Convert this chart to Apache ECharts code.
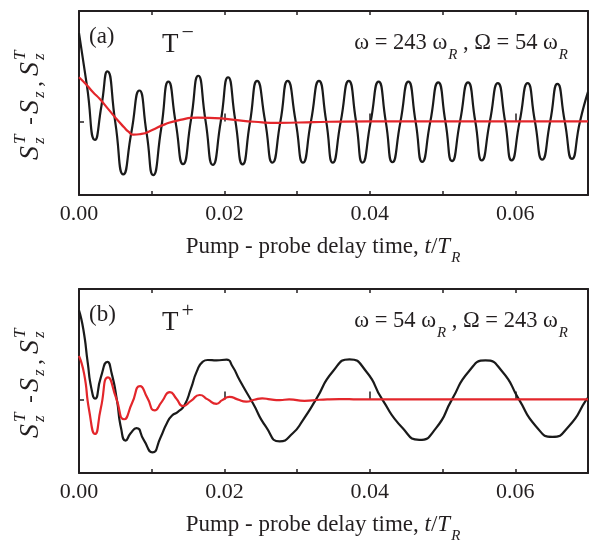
<!DOCTYPE html>
<html><head><meta charset="utf-8">
<script src="https://cdn.jsdelivr.net/npm/echarts@6/dist/echarts.min.js"></script>
<style>html,body{margin:0;padding:0;background:#fff}#c{width:589px;height:541px}</style>
</head><body><div id="c"></div>
<script>
// ---- tick labels ----
const xTickVals = [0, 0.02, 0.04, 0.06];
const xTickLabels = ['0.00', '0.02', '0.04', '0.06'];

// ---- panel (a): T-, ω = 243 ωR, Ω = 54 ωR ----
const tBlackA = [0.0000,0.0011,0.0022,0.0031,0.0039,0.0050,0.0061,0.0072,0.0083,0.0093,0.0102,0.0113,0.0123,0.0133,0.0143,0.0154,0.0164,0.0174,0.0184,0.0195,0.0205,0.0215,0.0225,0.0235,0.0245,0.0256,0.0266,0.0277,0.0287,0.0298,0.0308,0.0319,0.0330,0.0340,0.0349,0.0360,0.0371,0.0381,0.0390,0.0401,0.0412,0.0422,0.0431,0.0442,0.0453,0.0463,0.0472,0.0483,0.0494,0.0504,0.0513,0.0524,0.0535,0.0545,0.0554,0.0565,0.0576,0.0586,0.0595,0.0606,0.0617,0.0627,0.0637,0.0648,0.0658,0.0668,0.0678,0.0689,0.0700];
const vBlackA = [1.20,0.48,-0.25,0.22,0.68,-0.02,-0.72,-0.15,0.42,-0.16,-0.73,-0.10,0.54,-0.02,-0.58,0.02,0.62,0.01,-0.59,0.00,0.60,0.01,-0.585,-0.02,0.55,0.00,-0.56,0.00,0.55,0.00,-0.56,0.00,0.55,0.00,-0.56,0.00,0.55,0.00,-0.56,-0.01,0.54,-0.01,-0.555,-0.01,0.54,-0.01,-0.55,-0.01,0.53,-0.01,-0.54,0.00,0.53,0.00,-0.53,0.00,0.52,0.00,-0.53,0.00,0.52,0.00,-0.52,0.00,0.51,0.00,-0.51,0.00,0.40];
const tRedA = [0.0000,0.0010,0.0019,0.0029,0.0040,0.0051,0.0062,0.0068,0.0075,0.0086,0.0100,0.0118,0.0139,0.0163,0.0187,0.0214,0.0241,0.0269,0.0303,0.0344,0.0399,0.0700];
const vRedA = [0.60,0.50,0.40,0.30,0.17,0.04,-0.08,-0.14,-0.18,-0.17,-0.12,-0.04,0.02,0.05,0.045,0.02,-0.005,-0.02,-0.015,-0.005,0.00,0.00];

// ---- panel (b): T+, ω = 54 ωR, Ω = 243 ωR ----
const tBlackB = [0.0000,0.0006,0.0012,0.0017,0.0022,0.0030,0.0039,0.0045,0.0052,0.0058,0.0064,0.0071,0.0079,0.0089,0.0101,0.0112,0.0121,0.0128,0.0136,0.0145,0.0154,0.0162,0.0170,0.0177,0.0189,0.0203,0.0211,0.0221,0.0239,0.0257,0.0276,0.0294,0.0308,0.0326,0.0349,0.0372,0.0395,0.0417,0.0445,0.0468,0.0491,0.0513,0.0536,0.0559,0.0582,0.0605,0.0628,0.0651,0.0674,0.0698,0.0700];
const vBlackB = [1.21,0.95,0.50,0.15,0.01,0.30,0.51,0.35,0.00,-0.40,-0.56,-0.46,-0.39,-0.55,-0.72,-0.52,-0.32,-0.22,-0.17,-0.08,0.15,0.38,0.51,0.535,0.53,0.54,0.45,0.26,-0.05,-0.37,-0.57,-0.46,-0.28,0.00,0.38,0.545,0.38,0.00,-0.39,-0.55,-0.39,0.00,0.38,0.53,0.38,0.00,-0.36,-0.51,-0.36,0.00,0.02];
const tRedB = [0.0000,0.0007,0.0014,0.0022,0.0030,0.0040,0.0051,0.0062,0.0073,0.0084,0.0094,0.0104,0.0114,0.0125,0.0134,0.0143,0.0154,0.0166,0.0177,0.0189,0.0197,0.0207,0.0218,0.0230,0.0241,0.0252,0.0263,0.0276,0.0289,0.0310,0.0331,0.0358,0.0385,0.0700];
const vRedB = [0.59,0.35,-0.15,-0.47,-0.12,0.30,0.02,-0.27,-0.05,0.18,0.02,-0.15,-0.03,0.10,0.01,-0.09,-0.02,0.06,0.00,-0.06,-0.01,0.035,0.00,-0.03,-0.005,0.015,0.00,-0.01,0.00,-0.02,-0.005,0.005,0.00,0.00];

const INK = '#231f20';
const RED = '#e3262b';
const SERIF = 'Liberation Serif';

const zip = (t, v) => t.map((x, i) => [x, v[i]]);

const grids = [
  {left: 79, top: 11, width: 509, height: 184},
  {left: 79, top: 289, width: 509, height: 184}
];

function xAxes(gi) {
  const base = {type: 'value', gridIndex: gi, min: 0, max: 0.07, splitLine: {show: false}};
  return [
    Object.assign({}, base, {
      position: 'bottom', interval: 0.01,
      axisLine: {show: true, onZero: false, lineStyle: {color: INK, width: 2}},
      axisTick: {show: true, inside: true, length: 4, lineStyle: {color: INK, width: 1.5}},
      axisLabel: {show: true, margin: 8, fontFamily: SERIF, fontSize: 22, color: INK,
        customValues: xTickVals,
        formatter: v => { const i = xTickVals.findIndex(a => Math.abs(a - v) < 1e-9); return i >= 0 ? xTickLabels[i] : ''; }}
    }),
    Object.assign({}, base, {
      position: 'bottom',
      axisLine: {show: false},
      axisTick: {show: true, inside: true, length: 8, customValues: xTickVals, lineStyle: {color: INK, width: 1.5}},
      axisLabel: {show: false}
    }),
    Object.assign({}, base, {
      position: 'top', interval: 0.01,
      axisLine: {show: true, onZero: false, lineStyle: {color: INK, width: 2}},
      axisTick: {show: true, inside: true, length: 4, lineStyle: {color: INK, width: 1.5}},
      axisLabel: {show: false}
    })
  ];
}
function yAxes(gi) {
  const base = {type: 'value', gridIndex: gi, min: -1, max: 1.5, splitLine: {show: false}, axisLabel: {show: false}};
  return [
    Object.assign({}, base, {position: 'left',
      axisLine: {show: true, onZero: false, lineStyle: {color: INK, width: 2}},
      axisTick: {show: true, inside: true, length: 5, customValues: [0], lineStyle: {color: INK, width: 1.5}}}),
    Object.assign({}, base, {position: 'right',
      axisLine: {show: true, onZero: false, lineStyle: {color: INK, width: 2}},
      axisTick: {show: false}})
  ];
}

function line(data, xi, yi, color) {
  return {type: 'line', xAxisIndex: xi, yAxisIndex: yi, data: data, showSymbol: false, symbol: 'none',
    smooth: 0.6, clip: true, animation: false,
    lineStyle: {color: color, width: 2.2}};
}

const txt = {fontFamily: SERIF, fill: INK};

function yLabel(x0, y0) {
  const it = (s, lx, ly, size, italic) => ({type: 'text', x: lx, y: ly,
    style: {text: s, fontFamily: SERIF, fontSize: size, fontStyle: italic ? 'italic' : 'normal', fill: INK,
      textAlign: 'left', textVerticalAlign: 'middle'}});
  return {type: 'group', x: x0, y: y0, rotation: Math.PI / 2, children: [
    it('S', 0, 0, 28, true), it('T', 16, -10, 17, true), it('z', 16, 9, 17, true),
    it('-', 35, 0, 24, false),
    it('S', 46, 0, 28, true), it('z', 62, 9, 17, true),
    it(',', 73, 4, 24, false),
    it('S', 84, 0, 28, true), it('T', 100, -10, 17, true), it('z', 100, 9, 17, true)
  ]};
}

function annot(top, label, sign, omegaText) {
  return [
    {type: 'text', x: 89, y: top + 26, style: Object.assign({text: label, fontSize: 23, textAlign: 'left', textVerticalAlign: 'middle'}, txt)},
    {type: 'text', x: 162, y: top + 34, style: {text: '{T|T}{p|' + sign + '}', textAlign: 'left', textVerticalAlign: 'middle',
      rich: {T: {fontFamily: SERIF, fontSize: 27, fill: INK}, p: {fontFamily: SERIF, fontSize: 22, fill: INK, padding: [0, 0, 24, 3]}}}},
    {type: 'text', x: 568, y: top + 32, style: {text: omegaText, textAlign: 'right', textVerticalAlign: 'middle',
      rich: {n: {fontFamily: SERIF, fontSize: 22.5, fill: INK}, s: {fontFamily: SERIF, fontSize: 15, fontStyle: 'italic', fill: INK, padding: [24, 0, 0, 1]}}}}
  ];
}

function xTitle(y) {
  return {type: 'text', x: 323, y: y, style: {text: '{n|Pump - probe delay time, }{i|t}{n|/}{i|T}{s|R}', textAlign: 'center', textVerticalAlign: 'middle',
    rich: {n: {fontFamily: SERIF, fontSize: 23, fill: INK}, i: {fontFamily: SERIF, fontSize: 23, fontStyle: 'italic', fill: INK},
      s: {fontFamily: SERIF, fontSize: 15, fontStyle: 'italic', fill: INK, padding: [22, 0, 0, 1]}}}};
}

const chart = echarts.init(document.getElementById('c'), null, {renderer: 'canvas'});
chart.setOption({
  animation: false,
  backgroundColor: '#fff',
  grid: grids,
  xAxis: xAxes(0).concat(xAxes(1)),
  yAxis: yAxes(0).concat(yAxes(1)),
  series: [
    line(zip(tBlackA, vBlackA), 0, 0, '#1a1a1a'),
    line(zip(tRedA, vRedA), 0, 0, RED),
    line(zip(tBlackB, vBlackB), 3, 2, '#1a1a1a'),
    line(zip(tRedB, vRedB), 3, 2, RED)
  ],
  graphic: [].concat(
    annot(11, '(a)', '\u2212', '{n|\u03c9 = 243 \u03c9}{s|R}{n| , \u03a9 = 54 \u03c9}{s|R}'),
    annot(289, '(b)', '+', '{n|\u03c9 = 54 \u03c9}{s|R}{n| , \u03a9 = 243 \u03c9}{s|R}'),
    [yLabel(31, 160), yLabel(31, 438), xTitle(247), xTitle(525)]
  )
});
</script>
</body></html>
